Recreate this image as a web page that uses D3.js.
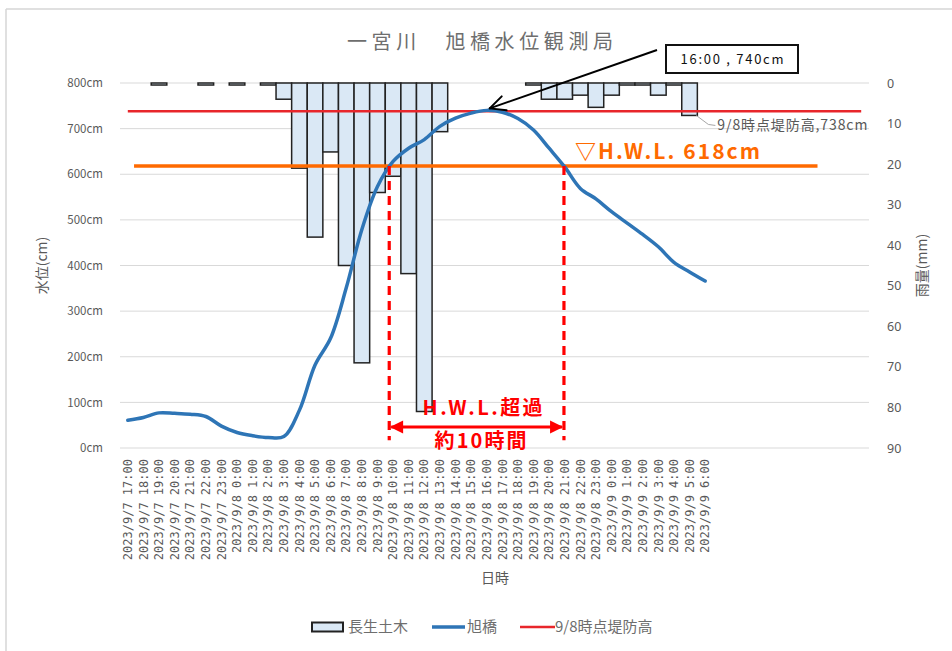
<!DOCTYPE html>
<html>
<head>
<meta charset="utf-8">
<script src="https://cdn.jsdelivr.net/npm/d3@7"></script>
<style>
  html, body { margin: 0; padding: 0; background: #fff; }
  svg { display: block; font-family: "Noto Sans CJK JP", "Noto Sans", sans-serif; }
</style>
</head>
<body>
<svg id="chart" width="952" height="651"></svg>
<script>
// Observation times (hourly), 2023/9/7 17:00 – 2023/9/9 6:00
const times = [
  "2023/9/7 17:00", "2023/9/7 18:00", "2023/9/7 19:00", "2023/9/7 20:00",
  "2023/9/7 21:00", "2023/9/7 22:00", "2023/9/7 23:00",
  "2023/9/8 0:00", "2023/9/8 1:00", "2023/9/8 2:00", "2023/9/8 3:00",
  "2023/9/8 4:00", "2023/9/8 5:00", "2023/9/8 6:00", "2023/9/8 7:00",
  "2023/9/8 8:00", "2023/9/8 9:00", "2023/9/8 10:00", "2023/9/8 11:00",
  "2023/9/8 12:00", "2023/9/8 13:00", "2023/9/8 14:00", "2023/9/8 15:00",
  "2023/9/8 16:00", "2023/9/8 17:00", "2023/9/8 18:00", "2023/9/8 19:00",
  "2023/9/8 20:00", "2023/9/8 21:00", "2023/9/8 22:00", "2023/9/8 23:00",
  "2023/9/9 0:00", "2023/9/9 1:00", "2023/9/9 2:00", "2023/9/9 3:00",
  "2023/9/9 4:00", "2023/9/9 5:00", "2023/9/9 6:00"
];
// Trailing empty slots on the category axis
const emptySlots = 10;

// Hourly rainfall at 長生土木 (mm)
const rainfall = [
  0, 0, 0.5, 0, 0, 0.5, 0,
  0.5, 0, 0.5, 4, 21, 38, 17, 45, 69, 27, 23, 47, 81, 12, 0, 0, 0,
  0, 0, 0.5, 4, 4, 3, 6,
  3, 0.5, 0.5, 3, 0.5, 8, 0
];

// Water level at 旭橋 (cm)
const waterLevel = [
  61, 67, 77, 76, 74, 69, 48,
  34, 27, 23, 25, 83, 182, 241, 351, 479, 573, 628, 657, 676, 705, 723, 734,
  740, 736, 722, 697, 657, 616, 569, 546,
  518, 493, 468, 441, 407, 386, 366
];

// Reference heights (cm)
const leveeHeight = 738;   // 9/8時点堤防高
const hwl = 618;           // H.W.L.
const peakIndex = 23;      // 16:00

const levelTicks = [0, 100, 200, 300, 400, 500, 600, 700, 800];
const rainTicks = [0, 10, 20, 30, 40, 50, 60, 70, 80, 90];

const svg = d3.select("#chart");
const plot = { left: 120, right: 869, top: 83, bottom: 448 };
const grey = "#595959";
const jpFont = "'Noto Sans CJK JP', 'Noto Sans', sans-serif";

const slots = d3.range(times.length + emptySlots);
const x = d3.scaleBand().domain(slots).range([plot.left, plot.right]).padding(0);
const bw = x.bandwidth();
const xc = d3.scaleLinear().domain([0, 1]).range([x(0) + bw / 2, x(1) + bw / 2]);
const yL = d3.scaleLinear().domain([0, 800]).range([plot.bottom, plot.top]);
const yR = d3.scaleLinear().domain([0, 90]).range([plot.top, plot.bottom]);

// Chart frame edges
svg.append("line").attr("x1", 6).attr("x2", 952).attr("y1", 9).attr("y2", 9)
  .attr("stroke", "#d6d6d6").attr("stroke-width", 1.5);
svg.append("line").attr("x1", 6).attr("x2", 6).attr("y1", 9).attr("y2", 651)
  .attr("stroke", "#d6d6d6").attr("stroke-width", 1.5);

// Title
svg.append("text").attr("x", 480).attr("y", 49).attr("text-anchor", "middle")
  .attr("font-size", 20).attr("fill", "#6e6e6e")
  .attr("textLength", 266).attr("lengthAdjust", "spacing")
  .text("一宮川　旭橋水位観測局");

// Gridlines
svg.append("g").selectAll("line").data(levelTicks).join("line")
  .attr("x1", plot.left).attr("x2", plot.right)
  .attr("y1", d => yL(d)).attr("y2", d => yL(d))
  .attr("stroke", "#d9d9d9").attr("stroke-width", 1);

// Left axis
const axL = svg.append("g").attr("transform", `translate(${plot.left - 14},0)`)
  .call(d3.axisLeft(yL).tickValues(levelTicks).tickSize(0).tickFormat(d => d + "cm"));
axL.select(".domain").remove();
axL.attr("font-family", null);
axL.selectAll("text").attr("font-size", 11.5).attr("fill", grey)
  .style("font-family", jpFont);

// Right axis
const axR = svg.append("g").attr("transform", `translate(${plot.right + 15},0)`)
  .call(d3.axisRight(yR).tickValues(rainTicks).tickSize(0));
axR.select(".domain").remove();
axR.selectAll("text").attr("font-size", 12.5).attr("fill", grey)
  .style("font-family", "'Noto Sans', sans-serif");

// Bottom axis (rotated time labels)
const axB = svg.append("g").attr("transform", `translate(0,${plot.bottom})`)
  .call(d3.axisBottom(x).tickSize(0).tickFormat(i => times[i] || ""));
axB.select(".domain").remove();
axB.selectAll("text")
  .attr("transform", "rotate(-90)")
  .attr("text-anchor", "end")
  .attr("x", -11).attr("y", 0).attr("dy", "0.35em")
  .attr("font-size", 12).attr("fill", grey)
  .style("font-family", "'DejaVu Sans Mono', 'Liberation Mono', monospace");

// Axis titles
svg.append("text").attr("transform", `translate(42,${(plot.top + plot.bottom) / 2}) rotate(-90)`)
  .attr("text-anchor", "middle").attr("dy", "0.35em")
  .attr("font-size", 14).attr("fill", grey).text("水位(cm)");
svg.append("text").attr("transform", `translate(922,${(plot.top + plot.bottom) / 2}) rotate(-90)`)
  .attr("text-anchor", "middle").attr("dy", "0.35em")
  .attr("font-size", 14).attr("fill", grey).text("雨量(mm)");
svg.append("text").attr("x", 495).attr("y", 583).attr("text-anchor", "middle")
  .attr("font-size", 14).attr("fill", grey).text("日時");

// Rainfall bars hanging from the top
svg.append("g").selectAll("rect")
  .data(rainfall.map((v, i) => ({ v, i })).filter(d => d.v > 0))
  .join("rect")
  .attr("x", d => x(d.i)).attr("width", bw)
  .attr("y", yR(0)).attr("height", d => yR(d.v) - yR(0))
  .attr("fill", "#dae8f5").attr("stroke", "#222").attr("stroke-width", 1.5);

// Levee height series
const leveeLine = d3.line().x(i => xc(i)).y(() => yL(leveeHeight));
svg.append("path").datum(slots).attr("d", leveeLine)
  .attr("fill", "none").attr("stroke", "#e8262b").attr("stroke-width", 2.5);

// H.W.L. line
svg.append("line")
  .attr("x1", xc(0.4)).attr("x2", xc(44.2))
  .attr("y1", yL(hwl)).attr("y2", yL(hwl))
  .attr("stroke", "#ff6a00").attr("stroke-width", 3.5);

// Water level line
const levelLine = d3.line().x((d, i) => xc(i)).y(d => yL(d)).curve(d3.curveCatmullRom.alpha(0.5));
svg.append("path").datum(waterLevel).attr("d", levelLine)
  .attr("fill", "none").attr("stroke", "#2e75b6").attr("stroke-width", 3.5)
  .attr("stroke-linejoin", "round").attr("stroke-linecap", "round");

// Where the water level crosses H.W.L.
function crossings(values, level) {
  const out = [];
  for (let i = 1; i < values.length; i++) {
    const a = values[i - 1], b = values[i];
    if ((a - level) * (b - level) < 0) out.push(i - 1 + (level - a) / (b - a));
  }
  return out;
}
const [riseAt, fallAt] = crossings(waterLevel, hwl);
const xRise = xc(riseAt) - 1, xFall = xc(fallAt);

// Dashed drop lines
svg.append("g").selectAll("line").data([xRise, xFall]).join("line")
  .attr("x1", d => d).attr("x2", d => d)
  .attr("y1", yL(hwl)).attr("y2", yL(17))
  .attr("stroke", "#ff0000").attr("stroke-width", 3.2)
  .attr("stroke-dasharray", "9,6");

// Double-headed duration arrow
const arrowY = yL(46);
const defs = svg.append("defs");
defs.append("marker").attr("id", "head").attr("viewBox", "0 0 10 10")
  .attr("refX", 9).attr("refY", 5).attr("markerWidth", 5).attr("markerHeight", 4.4)
  .attr("orient", "auto-start-reverse").attr("markerUnits", "strokeWidth")
  .append("path").attr("d", "M0,0 L10,5 L0,10 Z").attr("fill", "#ff0000");
svg.append("line")
  .attr("x1", xRise + 2).attr("x2", xFall - 2)
  .attr("y1", arrowY).attr("y2", arrowY)
  .attr("stroke", "#ff0000").attr("stroke-width", 3)
  .attr("marker-start", "url(#head)").attr("marker-end", "url(#head)");

const midX = (xRise + xFall) / 2 + 6;
svg.append("text").attr("x", midX).attr("y", 415).attr("text-anchor", "middle")
  .attr("font-size", 20).attr("font-weight", "bold").attr("fill", "#ff0000")
  .attr("textLength", 120).attr("lengthAdjust", "spacing")
  .text("H.W.L.超過");
svg.append("text").attr("x", midX - 2).attr("y", 448).attr("text-anchor", "middle")
  .attr("font-size", 20).attr("font-weight", "bold").attr("fill", "#ff0000")
  .attr("textLength", 92).attr("lengthAdjust", "spacing")
  .text("約10時間");

// H.W.L. label
svg.append("text").attr("x", 575).attr("y", 159)
  .attr("font-size", 21).attr("font-weight", "bold").attr("fill", "#ff6a00")
  .attr("textLength", 185).attr("lengthAdjust", "spacing")
  .text("▽H.W.L. 618cm");

// Levee height data label with leader
const lastRain = rainfall.length - 2;
const lx = x(lastRain) + bw, ly = yR(rainfall[lastRain]);
svg.append("polyline")
  .attr("points", [[lx - 1, ly], [lx + 11, ly + 9], [lx + 18, ly + 10]].map(p => p.join(",")).join(" "))
  .attr("fill", "none").attr("stroke", "#a6a6a6").attr("stroke-width", 1);
svg.append("text").attr("x", lx + 20).attr("y", ly + 15)
  .attr("font-size", 14).attr("fill", grey)
  .attr("textLength", 150).attr("lengthAdjust", "spacing")
  .text(`9/8時点堤防高,${leveeHeight}cm`);

// Peak callout
const tipX = xc(peakIndex) + 3, tipY = yL(waterLevel[peakIndex]) - 2;
const boxX = 666, boxY = 45, boxW = 132, boxH = 28;
svg.append("rect").attr("x", boxX).attr("y", boxY).attr("width", boxW).attr("height", boxH)
  .attr("fill", "#fff").attr("stroke", "#111").attr("stroke-width", 2);
svg.append("text").attr("x", boxX + boxW / 2).attr("y", boxY + 19).attr("text-anchor", "middle")
  .attr("font-size", 13).attr("fill", "#111")
  .attr("textLength", 103).attr("lengthAdjust", "spacing")
  .text(`${times[peakIndex].split(" ")[1]} , ${waterLevel[peakIndex]}cm`);
const sx = boxX - 9, sy = boxY + 5;
svg.append("line").attr("x1", sx).attr("y1", sy).attr("x2", tipX).attr("y2", tipY)
  .attr("stroke", "#000").attr("stroke-width", 2);
const ang = Math.atan2(sy - tipY, sx - tipX);
[0.45, -0.45].forEach(da => {
  svg.append("line").attr("x1", tipX).attr("y1", tipY)
    .attr("x2", tipX + 17 * Math.cos(ang + da)).attr("y2", tipY + 17 * Math.sin(ang + da))
    .attr("stroke", "#000").attr("stroke-width", 2).attr("stroke-linecap", "round");
});

// Legend
const lg = svg.append("g").attr("font-size", 15).attr("fill", "#6e6e6e");
lg.append("rect").attr("x", 312).attr("y", 622.5).attr("width", 31).attr("height", 9)
  .attr("fill", "#dae8f5").attr("stroke", "#222").attr("stroke-width", 2);
lg.append("text").attr("x", 348).attr("y", 627).attr("dy", "0.35em").text("長生土木");
lg.append("line").attr("x1", 432).attr("x2", 465).attr("y1", 627).attr("y2", 627)
  .attr("stroke", "#2e75b6").attr("stroke-width", 3.5);
lg.append("text").attr("x", 467).attr("y", 627).attr("dy", "0.35em").text("旭橋");
lg.append("line").attr("x1", 520).attr("x2", 555).attr("y1", 627).attr("y2", 627)
  .attr("stroke", "#e8262b").attr("stroke-width", 2.5);
lg.append("text").attr("x", 555).attr("y", 627).attr("dy", "0.35em").text("9/8時点堤防高");
</script>
</body>
</html>
